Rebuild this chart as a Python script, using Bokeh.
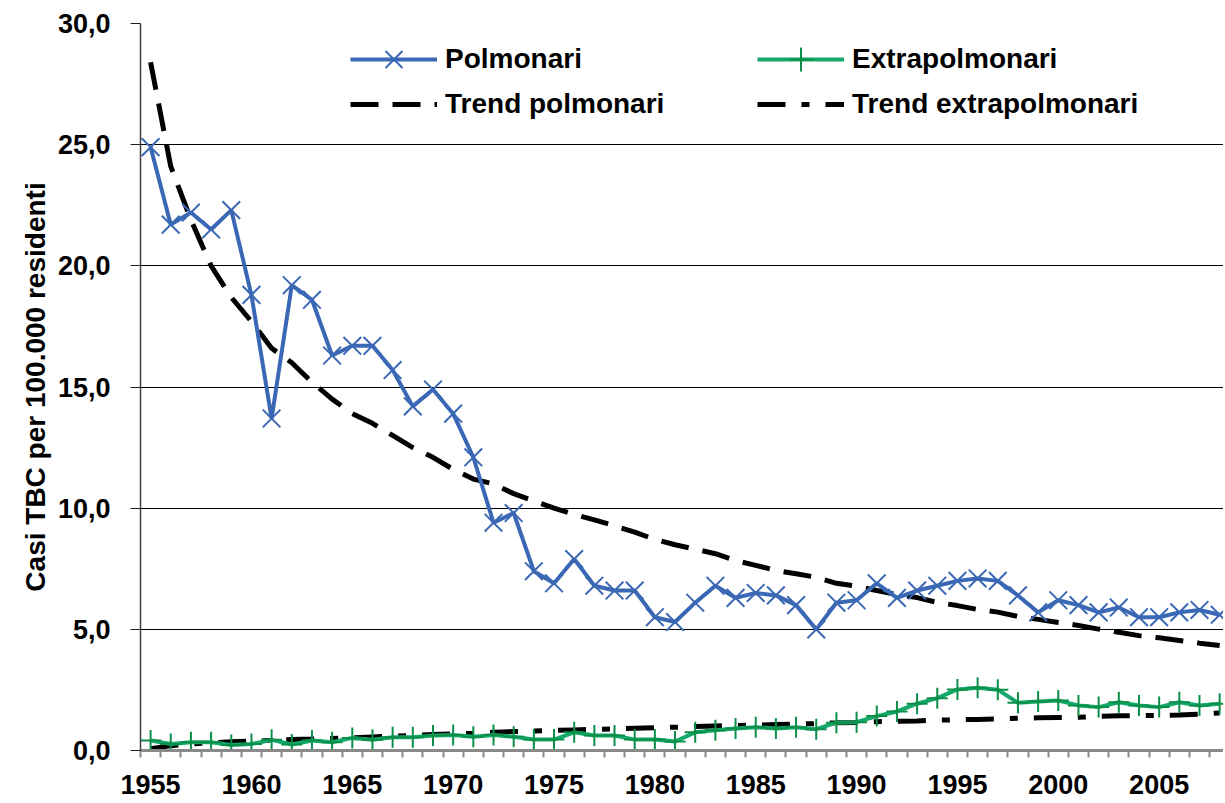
from bokeh.plotting import figure
from bokeh.models import Range1d, FixedTicker, CustomJSTickFormatter, Legend, LegendItem
from bokeh.embed import file_html
from bokeh.resources import INLINE

years = list(range(1955, 2009))

polmonari = [24.9, 21.7, 22.2, 21.5, 22.3, 18.8, 13.7, 19.2, 18.6, 16.3,
             16.7, 16.7, 15.7, 14.2, 14.9, 13.9, 12.1, 9.4, 9.8, 7.4,
             6.9, 7.9, 6.8, 6.6, 6.6, 5.5, 5.3, 6.1, 6.8, 6.3,
             6.5, 6.4, 6.0, 5.0, 6.1, 6.2, 6.9, 6.3, 6.6, 6.8,
             7.0, 7.1, 7.0, 6.4, 5.7, 6.2, 6.0, 5.7, 5.9, 5.5,
             5.5, 5.7, 5.8, 5.6]

extrapolmonari = [0.41, 0.27, 0.34, 0.34, 0.23, 0.27, 0.44, 0.25, 0.41, 0.34,
                  0.52, 0.44, 0.55, 0.55, 0.62, 0.64, 0.57, 0.64, 0.57, 0.45,
                  0.45, 0.75, 0.62, 0.62, 0.45, 0.45, 0.37, 0.75, 0.84, 0.91,
                  0.96, 0.91, 0.96, 0.88, 1.15, 1.17, 1.42, 1.61, 1.93, 2.16,
                  2.52, 2.59, 2.51, 1.97, 2.02, 2.06, 1.86, 1.79, 1.99, 1.86,
                  1.79, 1.99, 1.86, 1.93]

trend_polmonari = [28.4, 24.1, 21.9, 20.0, 18.7, 17.7, 16.6, 16.0, 15.2, 14.5,
                   13.9, 13.5, 13.0, 12.5, 12.1, 11.6, 11.2, 11.0, 10.6, 10.3,
                   10.0, 9.74, 9.52, 9.27, 9.01, 8.71, 8.49, 8.31, 8.12, 7.84,
                   7.64, 7.43, 7.29, 7.15, 6.90, 6.78, 6.60, 6.43, 6.31, 6.11,
                   5.98, 5.82, 5.71, 5.53, 5.41, 5.28, 5.16, 5.01, 4.88, 4.74,
                   4.65, 4.54, 4.43, 4.33]

trend_extrapolmonari = [0.07, 0.20, 0.27, 0.32, 0.36, 0.39, 0.42, 0.45, 0.47, 0.50,
                        0.52, 0.56, 0.59, 0.62, 0.66, 0.69, 0.71, 0.75, 0.78, 0.80,
                        0.83, 0.85, 0.87, 0.89, 0.92, 0.94, 0.96, 0.99, 1.01, 1.03,
                        1.05, 1.07, 1.09, 1.11, 1.14, 1.16, 1.19, 1.21, 1.22, 1.25,
                        1.27, 1.28, 1.30, 1.33, 1.35, 1.36, 1.37, 1.41, 1.43, 1.44,
                        1.45, 1.46, 1.50, 1.55]

x_tick_years = list(range(1955, 2009, 5))
y_ticks = [0, 5, 10, 15, 20, 25, 30]

y_label = "Casi TBC per 100.000 residenti"
names = ["Polmonari", "Extrapolmonari", "Trend polmonari", "Trend extrapolmonari"]

BLUE = "#3A68B4"
GREEN_LINE = "#14A86B"
GREEN_MARK = "#0B8F48"
FONT = "Liberation Sans"

p = figure(width=1223, height=798, output_backend="svg", toolbar_location=None,
           x_range=Range1d(1954.5, 2008.19), y_range=Range1d(0, 30),
           min_border_left=140, min_border_right=0, min_border_top=23,
           min_border_bottom=48)
p.outline_line_color = None
p.background_fill_color = "white"
p.border_fill_color = "white"

# grid
p.xgrid.grid_line_color = None
p.ygrid.grid_line_color = "#000000"
p.ygrid.grid_line_width = 1

# x axis
p.xaxis.ticker = FixedTicker(ticks=x_tick_years,
                             minor_ticks=[y - 0.5 for y in years] + [years[-1] + 0.5])
p.xaxis.major_tick_out = 0
p.xaxis.major_tick_in = 0
p.xaxis.minor_tick_out = 7
p.xaxis.minor_tick_in = 0
p.xaxis.minor_tick_line_color = "#8a8a8a"
p.xaxis.minor_tick_line_width = 2
p.xaxis.axis_line_color = "#8a8a8a"
p.xaxis.axis_line_width = 3
p.xaxis.major_label_standoff = 17
p.xaxis.major_label_text_font = FONT
p.xaxis.major_label_text_font_style = "bold"
p.xaxis.major_label_text_font_size = "27px"
p.xaxis.major_label_text_color = "black"

# y axis
p.yaxis.ticker = FixedTicker(ticks=y_ticks, minor_ticks=[])
p.yaxis.formatter = CustomJSTickFormatter(code="return tick.toFixed(1).replace('.', ',');")
p.yaxis.major_tick_out = 10
p.yaxis.major_tick_in = 0
p.yaxis.major_tick_line_color = "#202020"
p.yaxis.minor_tick_out = 0
p.yaxis.minor_tick_in = 0
p.yaxis.axis_line_color = "#404040"
p.yaxis.axis_line_width = 1.5
p.yaxis.major_label_standoff = 20
p.yaxis.major_label_text_font = FONT
p.yaxis.major_label_text_font_style = "bold"
p.yaxis.major_label_text_font_size = "27px"
p.yaxis.major_label_text_color = "black"
p.yaxis.axis_label = y_label
p.yaxis.axis_label_text_font = FONT
p.yaxis.axis_label_text_font_style = "bold"
p.yaxis.axis_label_text_font_size = "28px"
p.yaxis.axis_label_text_color = "black"
p.yaxis.axis_label_standoff = 4

# trends
r_tp = p.line(years, trend_polmonari, line_color="black", line_width=5, line_dash="28 14")
r_te = p.line(years, trend_extrapolmonari, line_color="black", line_width=5, line_dash="28 16 8 16")

# data
r_pl = p.line(years, polmonari, line_color=BLUE, line_width=4)
r_ps = p.scatter(years, polmonari, marker="x", size=25, line_color=BLUE, line_width=2)
r_el = p.line(years, extrapolmonari, line_color=GREEN_LINE, line_width=4)
r_es = p.scatter(years, extrapolmonari, marker="cross", size=21, line_color=GREEN_MARK, line_width=2)

def make_legend(label, renderers, x, y):
    lg = Legend(items=[LegendItem(label=label, renderers=renderers)], location=(x, y),
                orientation="vertical", padding=0, margin=0, spacing=0,
                glyph_width=87, glyph_height=60, label_height=60, label_standoff=8,
                label_text_font=FONT, label_text_font_style="bold",
                label_text_font_size="28px", label_text_color="black",
                border_line_color=None, background_fill_alpha=0)
    p.add_layout(lg)
    return lg

make_legend(names[0], [r_pl, r_ps], 210, 661)
make_legend(names[2], [r_tp], 210, 616)
make_legend(names[1], [r_el, r_es], 617, 661)
make_legend(names[3], [r_te], 617, 616)

open("out.html", "w").write(file_html(p, INLINE))
